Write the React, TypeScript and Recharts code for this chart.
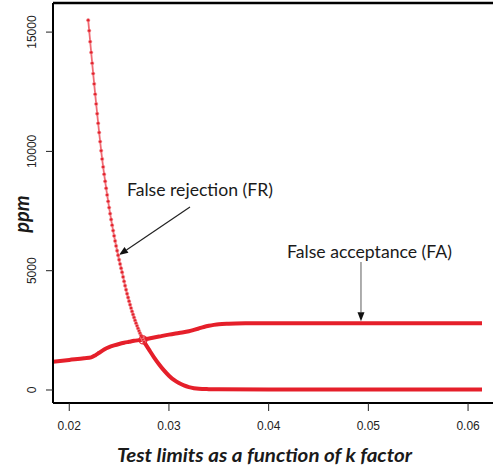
import React from 'react';
import { LineChart, Line, XAxis, YAxis, ReferenceLine, ReferenceDot } from 'recharts';

// axis ranges and ticks
const kDomain: [number, number] = [0.01837, 0.06521];
const ppmDomain: [number, number] = [-545, 16220];
const kTicks = [0.02, 0.03, 0.04, 0.05, 0.06];
const ppmTicks = [0, 5000, 10000, 15000];

// False rejection, sampled part (dotted markers)
const frSampledK = [
  0.0219, 0.022, 0.0221, 0.0222, 0.0223, 0.0224, 0.0225, 0.0226, 0.0227, 0.0228,
  0.0229, 0.023, 0.0231, 0.0232, 0.0233, 0.0234, 0.0235, 0.0236, 0.0237, 0.0238,
  0.0239, 0.024, 0.0241, 0.0242, 0.0243, 0.0244, 0.0245, 0.0246, 0.0247, 0.0248,
  0.0249, 0.025, 0.0251, 0.0252, 0.0253, 0.0254, 0.0255, 0.0256, 0.0257, 0.0258,
  0.0259, 0.026, 0.0261, 0.0262, 0.0263, 0.0264, 0.0265, 0.0266, 0.0267, 0.0268,
  0.0269, 0.027, 0.0271, 0.0272, 0.0273, 0.0274, 0.0275,
];
const frSampledPpm = [
  15500, 15060, 14600, 14150, 13700, 13260, 12830, 12400, 11990, 11580,
  11180, 10790, 10410, 10030, 9680, 9350, 9045, 8746, 8456, 8176,
  7906, 7644, 7391, 7146, 6910, 6681, 6460, 6246, 6039, 5839,
  5646, 5459, 5278, 5104, 4935, 4740, 4553, 4374, 4201, 4034,
  3875, 3722, 3574, 3432, 3295, 3163, 3037, 2916, 2800, 2688,
  2580, 2476, 2377, 2282, 2190, 2101, 2017,
];

// False rejection, solid tail
const frTailK = [0.0275, 0.028, 0.0285, 0.029, 0.0295, 0.03, 0.0305, 0.031, 0.0315, 0.032, 0.0325, 0.033, 0.034, 0.035, 0.04, 0.05, 0.0614];
const frTailPpm = [2017, 1690, 1370, 1080, 820, 600, 420, 290, 190, 120, 75, 50, 35, 28, 20, 20, 20];

// False acceptance
const faK = [
  0.01837, 0.02, 0.0215, 0.0222, 0.0226, 0.023, 0.0235, 0.024, 0.0245, 0.025,
  0.0255, 0.026, 0.0265, 0.027, 0.0275, 0.028, 0.029, 0.03, 0.031, 0.032,
  0.0325, 0.033, 0.0335, 0.034, 0.0345, 0.035, 0.036, 0.038, 0.04, 0.0614,
];
const faPpm = [
  1180, 1260, 1330, 1370, 1450, 1560, 1700, 1800, 1870, 1930,
  1980, 2020, 2060, 2090, 2120, 2160, 2240, 2320, 2390, 2460,
  2520, 2580, 2640, 2690, 2730, 2760, 2780, 2795, 2800, 2800,
];

const crossing = { k: 0.0274, ppm: 2100 };

const RED = '#e51f2a';
const TEXT = '#1a1a1a';
const LABEL_FONT = 'Lato, "Open Sans", sans-serif';
const TICK_FONT = '"Liberation Sans", Arial, sans-serif';

const zip = (ks: number[], vs: number[]) => ks.map((k, i) => ({ k, ppm: vs[i] }));
const frSampled = zip(frSampledK, frSampledPpm);
const frTail = zip(frTailK, frTailPpm);
const fa = zip(faK, faPpm);

// annotation arrows: from -> to (data coords), text offset from arrow start in px
const annotations = [
  { from: [0.03211, 7670], to: [0.02499, 5658], text: 'False rejection (FR)', dx: -63, dy: -17, width: 146, lineColor: '#222' },
  { from: [0.04926, 5365], to: [0.04926, 2880], text: 'False acceptance (FA)', dx: -74, dy: -10, width: 165, lineColor: '#777' },
];

const makeArrow = (a: typeof annotations[number]) => (props: any) => {
  const { x1, y1, x2, y2 } = props;
  const ang = Math.atan2(y2 - y1, x2 - x1);
  const len = 9;
  const half = 3.5;
  const bx = x2 - len * Math.cos(ang);
  const by = y2 - len * Math.sin(ang);
  const px = -Math.sin(ang) * half;
  const py = Math.cos(ang) * half;
  return (
    <g>
      <line x1={x1} y1={y1} x2={bx} y2={by} stroke={a.lineColor} strokeWidth={1.2} />
      <polygon points={`${x2},${y2} ${bx + px},${by + py} ${bx - px},${by - py}`} fill="#111" />
      <text x={x1 + a.dx} y={y1 + a.dy} textAnchor="start" dominantBaseline="central"
        fontFamily={LABEL_FONT} fontSize={17} fill={TEXT} textLength={a.width} lengthAdjust="spacingAndGlyphs">
        {a.text}
      </text>
    </g>
  );
};

const YTick = (props: any) => {
  const { x, y, payload } = props;
  const cx = x - 12;
  return (
    <text x={cx} y={y} transform={`rotate(-90 ${cx} ${y})`} textAnchor="middle" dominantBaseline="central"
      fontFamily={TICK_FONT} fontSize={12} fill="#222">
      {payload.value}
    </text>
  );
};

const XTick = (props: any) => {
  const { x, y, payload } = props;
  return (
    <text x={x} y={y + 17} textAnchor="middle" fontFamily={TICK_FONT} fontSize={12} fill="#222">
      {payload.value}
    </text>
  );
};

const XTitle = (props: any) => {
  const { viewBox } = props;
  return (
    <text x={117} y={viewBox.y + viewBox.height - 7} textAnchor="start" fontFamily={LABEL_FONT}
      fontWeight="bold" fontStyle="italic" fontSize={19} fill={TEXT} textLength={295} lengthAdjust="spacingAndGlyphs">
      Test limits as a function of k factor
    </text>
  );
};

const YTitle = () => {
  const cx = 21;
  const cy = 214;
  return (
    <text x={cx} y={cy} transform={`rotate(-90 ${cx} ${cy})`} textAnchor="middle" dominantBaseline="central"
      fontFamily={LABEL_FONT} fontWeight="bold" fontStyle="italic" fontSize={20} fill={TEXT}>
      ppm
    </text>
  );
};

export default function App() {
  return (
    <div style={{ position: 'fixed', left: 0, top: 0, width: 493, height: 469, overflow: 'hidden', background: '#fff' }}>
      <LineChart width={520} height={469} margin={{ top: 3, right: 0, bottom: 0, left: 0 }}>
        <XAxis
          dataKey="k"
          type="number"
          domain={kDomain}
          ticks={kTicks}
          allowDataOverflow
          height={66}
          stroke="#000"
          axisLine={{ stroke: '#000', strokeWidth: 2 }}
          tickLine={{ stroke: '#222', strokeWidth: 1 }}
          tickSize={8}
          tick={<XTick />}
          label={<XTitle />}
        />
        <YAxis
          dataKey="ppm"
          type="number"
          domain={ppmDomain}
          ticks={ppmTicks}
          allowDataOverflow
          width={53}
          axisLine={{ stroke: '#000', strokeWidth: 2 }}
          tickLine={{ stroke: '#222', strokeWidth: 1 }}
          tickSize={7}
          tick={<YTick />}
          label={<YTitle />}
        />
        <ReferenceLine y={ppmDomain[1]} stroke="#000" strokeWidth={2.5} ifOverflow="extendDomain" />
        <Line data={fa} dataKey="ppm" type="monotone" stroke={RED} strokeWidth={4} dot={false} isAnimationActive={false} />
        <Line data={frTail} dataKey="ppm" type="monotone" stroke={RED} strokeWidth={4} dot={false} isAnimationActive={false} />
        <Line
          data={frSampled}
          dataKey="ppm"
          type="monotone"
          stroke="#ef6a72"
          strokeWidth={1.8}
          dot={{ r: 1.7, fill: '#e4222c', stroke: '#f29aa0', strokeWidth: 0.6 }}
          isAnimationActive={false}
        />
        <ReferenceDot x={crossing.k} y={crossing.ppm} r={4} fill="none" stroke={RED} strokeWidth={1.2} />
        {annotations.map((a, i) => (
          <ReferenceLine
            key={i}
            segment={[{ x: a.from[0], y: a.from[1] }, { x: a.to[0], y: a.to[1] }]}
            shape={makeArrow(a)}
            ifOverflow="visible"
          />
        ))}
      </LineChart>
    </div>
  );
}
